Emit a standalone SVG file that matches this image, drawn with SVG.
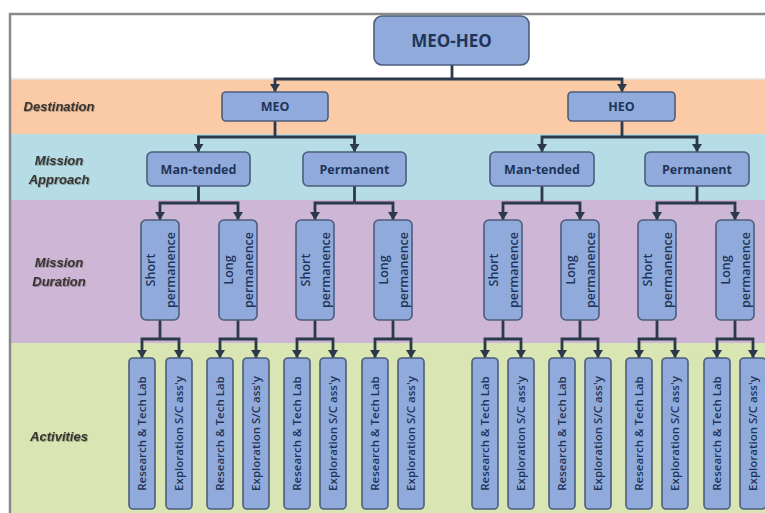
<svg xmlns="http://www.w3.org/2000/svg" width="765" height="513" viewBox="0 0 765 513">
  <defs>
    <style>
      .band-white { fill: #ffffff; }
      .band-dest { fill: #fbcba7; }
      .band-appr { fill: #b6dde6; }
      .band-dur { fill: #cdb6d6; }
      .band-act { fill: #d9e6b3; }
      .frame { stroke: #8a8a8a; stroke-width: 2.5; fill: none; }
      .box { fill: #90abdb; stroke: #4c5d7c; stroke-width: 1.6; }
      .txt { font-family: "Open Sans", "Liberation Sans", sans-serif; fill: #1f3458; text-anchor: middle; }
      .root-t { font-size: 17px; font-weight: 700; }
      .dest-t { font-size: 12.5px; font-weight: 700; }
      .appr-t { font-size: 12.5px; font-weight: 700; }
      .dur-t { font-size: 12.5px; font-weight: 600; }
      .act-t { font-size: 11.5px; font-weight: 600; }
      .lbl { font-family: "Liberation Sans", Arial, sans-serif; font-style: italic; font-weight: 700; font-size: 13px; fill: #3a3530; text-anchor: middle; }
      .conn { stroke: #2c394b; stroke-width: 2.8; fill: none; }
    </style>
    <!-- downward arrowhead, drawn along +x so orient="auto" turns it along the line -->
    <marker id="arrow" markerUnits="userSpaceOnUse" markerWidth="8" markerHeight="10" refX="8" refY="5" orient="auto" viewBox="0 0 8 10">
      <path d="M0,0 L8,5 L0,10 Z" fill="#2c394b"/>
    </marker>
    <filter id="soft" x="-10%" y="-30%" width="120%" height="160%">
      <feDropShadow dx="0.8" dy="0.8" stdDeviation="0.6" flood-color="#000" flood-opacity="0.35"/>
    </filter>
  </defs>

  <!-- horizontal level bands -->
  <rect class="band-white" x="0" y="0" width="765" height="513"/>
  <rect class="band-dest" x="10" y="79" width="755" height="55"/>
  <rect class="band-appr" x="10" y="134" width="755" height="66"/>
  <rect class="band-dur" x="10" y="200" width="755" height="143"/>
  <rect class="band-act" x="10" y="343" width="755" height="170"/>
  <line x1="10" y1="79" x2="765" y2="79" stroke="#e4e4e4" stroke-width="1.5"/>
  <path class="frame" d="M765,14 L10,14 L10,513"/>

  <!-- level labels -->
  <g id="labels" filter="url(#soft)">
    <text class="lbl" x="59" y="111">Destination</text>
    <text class="lbl" x="59" y="165">Mission</text>
    <text class="lbl" x="59" y="184">Approach</text>
    <text class="lbl" x="59" y="267">Mission</text>
    <text class="lbl" x="59" y="286">Duration</text>
    <text class="lbl" x="59" y="441">Activities</text>
  </g>

  <!-- connectors -->
  <g id="connectors">
    <!-- root to destinations -->
    <path class="conn" d="M452,65 V79"/>
    <path class="conn" d="M452,79 H275 V92" marker-end="url(#arrow)"/>
    <path class="conn" d="M452,79 H622 V92" marker-end="url(#arrow)"/>
    <!-- destinations to approaches -->
    <path class="conn" d="M275,121 V137"/>
    <path class="conn" d="M275,137 H198.5 V152" marker-end="url(#arrow)"/>
    <path class="conn" d="M275,137 H354.5 V152" marker-end="url(#arrow)"/>
    <path class="conn" d="M622,121 V137"/>
    <path class="conn" d="M622,137 H542 V152" marker-end="url(#arrow)"/>
    <path class="conn" d="M622,137 H697 V152" marker-end="url(#arrow)"/>
    <!-- approaches to durations -->
    <path class="conn" d="M198.5,186 V203"/>
    <path class="conn" d="M198.5,203 H160 V220" marker-end="url(#arrow)"/>
    <path class="conn" d="M198.5,203 H238 V220" marker-end="url(#arrow)"/>
    <path class="conn" d="M354.5,186 V203"/>
    <path class="conn" d="M354.5,203 H315 V220" marker-end="url(#arrow)"/>
    <path class="conn" d="M354.5,203 H393 V220" marker-end="url(#arrow)"/>
    <path class="conn" d="M542,186 V203"/>
    <path class="conn" d="M542,203 H503 V220" marker-end="url(#arrow)"/>
    <path class="conn" d="M542,203 H580 V220" marker-end="url(#arrow)"/>
    <path class="conn" d="M697,186 V203"/>
    <path class="conn" d="M697,203 H657 V220" marker-end="url(#arrow)"/>
    <path class="conn" d="M697,203 H735 V220" marker-end="url(#arrow)"/>
    <!-- durations to activities -->
    <path class="conn" d="M160,320 V339"/>
    <path class="conn" d="M160,339 H142 V358" marker-end="url(#arrow)"/>
    <path class="conn" d="M160,339 H179 V358" marker-end="url(#arrow)"/>
    <path class="conn" d="M238,320 V339"/>
    <path class="conn" d="M238,339 H220 V358" marker-end="url(#arrow)"/>
    <path class="conn" d="M238,339 H256 V358" marker-end="url(#arrow)"/>
    <path class="conn" d="M315,320 V339"/>
    <path class="conn" d="M315,339 H297 V358" marker-end="url(#arrow)"/>
    <path class="conn" d="M315,339 H333 V358" marker-end="url(#arrow)"/>
    <path class="conn" d="M393,320 V339"/>
    <path class="conn" d="M393,339 H375 V358" marker-end="url(#arrow)"/>
    <path class="conn" d="M393,339 H411 V358" marker-end="url(#arrow)"/>
    <path class="conn" d="M503,320 V339"/>
    <path class="conn" d="M503,339 H485 V358" marker-end="url(#arrow)"/>
    <path class="conn" d="M503,339 H521 V358" marker-end="url(#arrow)"/>
    <path class="conn" d="M580,320 V339"/>
    <path class="conn" d="M580,339 H562 V358" marker-end="url(#arrow)"/>
    <path class="conn" d="M580,339 H598 V358" marker-end="url(#arrow)"/>
    <path class="conn" d="M657,320 V339"/>
    <path class="conn" d="M657,339 H639 V358" marker-end="url(#arrow)"/>
    <path class="conn" d="M657,339 H675 V358" marker-end="url(#arrow)"/>
    <path class="conn" d="M735,320 V339"/>
    <path class="conn" d="M735,339 H717 V358" marker-end="url(#arrow)"/>
    <path class="conn" d="M735,339 H753 V358" marker-end="url(#arrow)"/>
  </g>

  <!-- root -->
  <g id="root">
    <rect class="box" x="374" y="16" width="155" height="49" rx="8"/>
    <text class="txt root-t" x="451.5" y="47">MEO-HEO</text>
  </g>

  <!-- destinations -->
  <g id="dest-meo">
    <rect class="box" x="222" y="92" width="106" height="29" rx="4"/>
    <text class="txt dest-t" x="275" y="111">MEO</text>
  </g>
  <g id="dest-heo">
    <rect class="box" x="568" y="92" width="107" height="29" rx="4"/>
    <text class="txt dest-t" x="621.5" y="111">HEO</text>
  </g>

  <!-- mission approaches -->
  <g id="meo-mantended">
    <rect class="box" x="147" y="152" width="103" height="34" rx="5"/>
    <text class="txt appr-t" x="198.5" y="173.5">Man-tended</text>
  </g>
  <g id="meo-permanent">
    <rect class="box" x="303" y="152" width="103" height="34" rx="5"/>
    <text class="txt appr-t" x="354.5" y="173.5">Permanent</text>
  </g>
  <g id="heo-mantended">
    <rect class="box" x="490" y="152" width="104" height="34" rx="5"/>
    <text class="txt appr-t" x="542" y="173.5">Man-tended</text>
  </g>
  <g id="heo-permanent">
    <rect class="box" x="645" y="152" width="104" height="34" rx="5"/>
    <text class="txt appr-t" x="697" y="173.5">Permanent</text>
  </g>

  <!-- mission durations -->
  <g id="meo-mt-short">
    <rect class="box" x="141" y="220" width="38" height="100" rx="5"/>
    <text class="txt dur-t" transform="translate(160,270) rotate(-90)"><tspan x="0" y="-5.5">Short</tspan><tspan x="0" y="14.5">permanence</tspan></text>
  </g>
  <g id="meo-mt-long">
    <rect class="box" x="219" y="220" width="38" height="100" rx="5"/>
    <text class="txt dur-t" transform="translate(238,270) rotate(-90)"><tspan x="0" y="-5.5">Long</tspan><tspan x="0" y="14.5">permanence</tspan></text>
  </g>
  <g id="meo-pm-short">
    <rect class="box" x="296" y="220" width="38" height="100" rx="5"/>
    <text class="txt dur-t" transform="translate(315,270) rotate(-90)"><tspan x="0" y="-5.5">Short</tspan><tspan x="0" y="14.5">permanence</tspan></text>
  </g>
  <g id="meo-pm-long">
    <rect class="box" x="374" y="220" width="38" height="100" rx="5"/>
    <text class="txt dur-t" transform="translate(393,270) rotate(-90)"><tspan x="0" y="-5.5">Long</tspan><tspan x="0" y="14.5">permanence</tspan></text>
  </g>
  <g id="heo-mt-short">
    <rect class="box" x="484" y="220" width="38" height="100" rx="5"/>
    <text class="txt dur-t" transform="translate(503,270) rotate(-90)"><tspan x="0" y="-5.5">Short</tspan><tspan x="0" y="14.5">permanence</tspan></text>
  </g>
  <g id="heo-mt-long">
    <rect class="box" x="561" y="220" width="38" height="100" rx="5"/>
    <text class="txt dur-t" transform="translate(580,270) rotate(-90)"><tspan x="0" y="-5.5">Long</tspan><tspan x="0" y="14.5">permanence</tspan></text>
  </g>
  <g id="heo-pm-short">
    <rect class="box" x="638" y="220" width="38" height="100" rx="5"/>
    <text class="txt dur-t" transform="translate(657,270) rotate(-90)"><tspan x="0" y="-5.5">Short</tspan><tspan x="0" y="14.5">permanence</tspan></text>
  </g>
  <g id="heo-pm-long">
    <rect class="box" x="716" y="220" width="38" height="100" rx="5"/>
    <text class="txt dur-t" transform="translate(735,270) rotate(-90)"><tspan x="0" y="-5.5">Long</tspan><tspan x="0" y="14.5">permanence</tspan></text>
  </g>

  <!-- activities -->
  <g id="act-1a"><rect class="box" x="129" y="358" width="26" height="151" rx="4"/><text class="txt act-t" transform="translate(146,433.5) rotate(-90)" x="0" y="0">Research &amp; Tech Lab</text></g>
  <g id="act-1b"><rect class="box" x="166" y="358" width="26" height="151" rx="4"/><text class="txt act-t" transform="translate(183,433.5) rotate(-90)" x="0" y="0">Exploration S/C ass'y</text></g>
  <g id="act-2a"><rect class="box" x="207" y="358" width="26" height="151" rx="4"/><text class="txt act-t" transform="translate(224,433.5) rotate(-90)" x="0" y="0">Research &amp; Tech Lab</text></g>
  <g id="act-2b"><rect class="box" x="243" y="358" width="26" height="151" rx="4"/><text class="txt act-t" transform="translate(260,433.5) rotate(-90)" x="0" y="0">Exploration S/C ass'y</text></g>
  <g id="act-3a"><rect class="box" x="284" y="358" width="26" height="151" rx="4"/><text class="txt act-t" transform="translate(301,433.5) rotate(-90)" x="0" y="0">Research &amp; Tech Lab</text></g>
  <g id="act-3b"><rect class="box" x="320" y="358" width="26" height="151" rx="4"/><text class="txt act-t" transform="translate(337,433.5) rotate(-90)" x="0" y="0">Exploration S/C ass'y</text></g>
  <g id="act-4a"><rect class="box" x="362" y="358" width="26" height="151" rx="4"/><text class="txt act-t" transform="translate(379,433.5) rotate(-90)" x="0" y="0">Research &amp; Tech Lab</text></g>
  <g id="act-4b"><rect class="box" x="398" y="358" width="26" height="151" rx="4"/><text class="txt act-t" transform="translate(415,433.5) rotate(-90)" x="0" y="0">Exploration S/C ass'y</text></g>
  <g id="act-5a"><rect class="box" x="472" y="358" width="26" height="151" rx="4"/><text class="txt act-t" transform="translate(489,433.5) rotate(-90)" x="0" y="0">Research &amp; Tech Lab</text></g>
  <g id="act-5b"><rect class="box" x="508" y="358" width="26" height="151" rx="4"/><text class="txt act-t" transform="translate(525,433.5) rotate(-90)" x="0" y="0">Exploration S/C ass'y</text></g>
  <g id="act-6a"><rect class="box" x="549" y="358" width="26" height="151" rx="4"/><text class="txt act-t" transform="translate(566,433.5) rotate(-90)" x="0" y="0">Research &amp; Tech Lab</text></g>
  <g id="act-6b"><rect class="box" x="585" y="358" width="26" height="151" rx="4"/><text class="txt act-t" transform="translate(602,433.5) rotate(-90)" x="0" y="0">Exploration S/C ass'y</text></g>
  <g id="act-7a"><rect class="box" x="626" y="358" width="26" height="151" rx="4"/><text class="txt act-t" transform="translate(643,433.5) rotate(-90)" x="0" y="0">Research &amp; Tech Lab</text></g>
  <g id="act-7b"><rect class="box" x="662" y="358" width="26" height="151" rx="4"/><text class="txt act-t" transform="translate(679,433.5) rotate(-90)" x="0" y="0">Exploration S/C ass'y</text></g>
  <g id="act-8a"><rect class="box" x="704" y="358" width="26" height="151" rx="4"/><text class="txt act-t" transform="translate(721,433.5) rotate(-90)" x="0" y="0">Research &amp; Tech Lab</text></g>
  <g id="act-8b"><rect class="box" x="740" y="358" width="26" height="151" rx="4"/><text class="txt act-t" transform="translate(757,433.5) rotate(-90)" x="0" y="0">Exploration S/C ass'y</text></g>
</svg>
